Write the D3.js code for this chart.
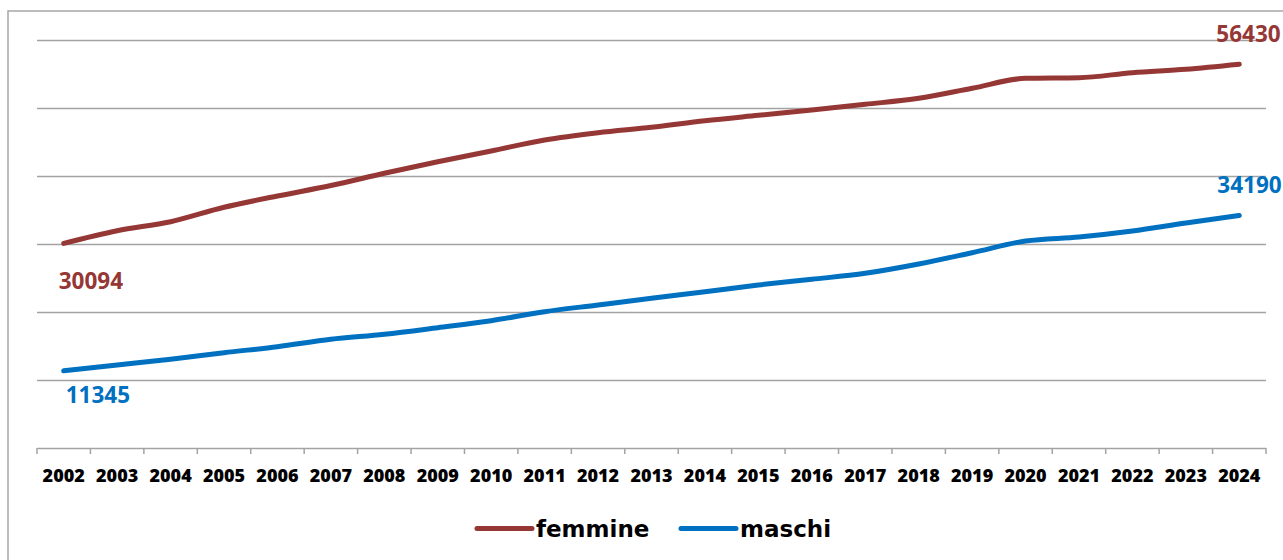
<!DOCTYPE html>
<html>
<head>
<meta charset="utf-8">
<script src="https://cdn.jsdelivr.net/npm/d3@7"></script>
<style>
  html, body { margin: 0; padding: 0; background: #fff; }
  svg { display: block; }
</style>
</head>
<body>
<svg id="chart" width="1283" height="560"></svg>
<script>
const years = ["2002","2003","2004","2005","2006","2007","2008","2009","2010","2011","2012","2013","2014","2015","2016","2017","2018","2019","2020","2021","2022","2023","2024"];
const femmine = [30094,31956,33280,35398,37059,38600,40397,42103,43677,45294,46368,47162,48132,48926,49706,50544,51427,52898,54368,54457,55193,55692,56430];
const maschi = [11345,12206,13044,14015,14897,15985,16721,17691,18721,20044,21030,22015,22985,23971,24809,25691,27059,28721,30441,31029,31912,33088,34190];
const gridTicks = [10000,20000,30000,40000,50000,60000];
const seriesNames = ["femmine","maschi"];
const seriesColors = ["#953735","#0070C0"];

(function () {
const svg = d3.select("#chart");
const pL = 37, pR = 1266, pT = 40, pB = 448;
const x = d3.scaleBand().domain(years).range([pL, pR]).padding(0);
const y = d3.scaleLinear().domain([0, 60000]).range([pB, pT]);
const cx = d => x(d) + x.bandwidth() / 2;

// outer chart border
svg.append("rect").attr("x", 8).attr("y", 11).attr("width", 1300).attr("height", 600)
  .attr("fill", "none").attr("stroke", "#a6a6a6").attr("stroke-width", 1.5);

// gridlines
svg.append("g").selectAll("line").data(gridTicks).join("line")
  .attr("x1", pL).attr("x2", pR)
  .attr("y1", d => Math.round(y(d)) + 0.5).attr("y2", d => Math.round(y(d)) + 0.5)
  .attr("stroke", "#a3a3a3").attr("stroke-width", 1.5);

// x axis
const xAxis = d3.axisBottom(x).tickSize(0).tickPadding(0);
const gx = svg.append("g").attr("transform", `translate(0,${pB})`).call(xAxis);
gx.select(".domain").remove();
gx.append("line").attr("x1", pL).attr("x2", pR).attr("y1", 0.5).attr("y2", 0.5)
  .attr("stroke", "#a3a3a3").attr("stroke-width", 1.5);
const bounds = years.map(d => x(d)).concat([pR]);
gx.selectAll(".bt").data(bounds).join("line").attr("class", "bt")
  .attr("x1", d => d).attr("x2", d => d).attr("y1", 0).attr("y2", 6)
  .attr("stroke", "#a3a3a3").attr("stroke-width", 1.5);
gx.selectAll(".tick text")
  .attr("y", 33.5).attr("dy", 0)
  .attr("font-family", "'Open Sans', sans-serif").attr("font-weight", 800)
  .attr("font-size", 18).attr("fill", "#000");

// lines
const line = d3.line().x((d, i) => cx(years[i])).y(d => y(d)).curve(d3.curveMonotoneX);
[femmine, maschi].forEach((s, k) => {
  svg.append("path").datum(s).attr("d", line)
    .attr("fill", "none").attr("stroke", seriesColors[k]).attr("stroke-width", 5)
    .attr("stroke-linecap", "round").attr("stroke-linejoin", "round");
});

// data labels
const labels = [
  {v: femmine[0], i: 0, c: 0, dx: -5, dy: 46},
  {v: femmine[femmine.length-1], i: years.length-1, c: 0, dx: -23, dy: -22},
  {v: maschi[0], i: 0, c: 1, dx: 2, dy: 32},
  {v: maschi[maschi.length-1], i: years.length-1, c: 1, dx: -22, dy: -23}
];
svg.append("g").selectAll("text").data(labels).join("text")
  .attr("x", d => cx(years[d.i]) + d.dx)
  .attr("y", d => y(d.v) + d.dy)
  .attr("font-family", "'Open Sans', sans-serif").attr("font-weight", "bold")
  .attr("font-size", 22.5).attr("fill", d => seriesColors[d.c])
  .text(d => d.v);

// legend
const legend = [
  {name: seriesNames[0], c: seriesColors[0], lx: 477, tx: 536},
  {name: seriesNames[1], c: seriesColors[1], lx: 681, tx: 740}
];
const lg = svg.append("g");
legend.forEach(l => {
  lg.append("line").attr("x1", l.lx).attr("x2", l.lx + 55).attr("y1", 528.5).attr("y2", 528.5)
    .attr("stroke", l.c).attr("stroke-width", 5).attr("stroke-linecap", "round");
  lg.append("text").attr("x", l.tx).attr("y", 537)
    .attr("font-family", "'DejaVu Sans', sans-serif").attr("font-weight", "bold")
    .attr("font-size", 23).attr("fill", "#000").text(l.name);
});
})();
</script>
</body>
</html>
